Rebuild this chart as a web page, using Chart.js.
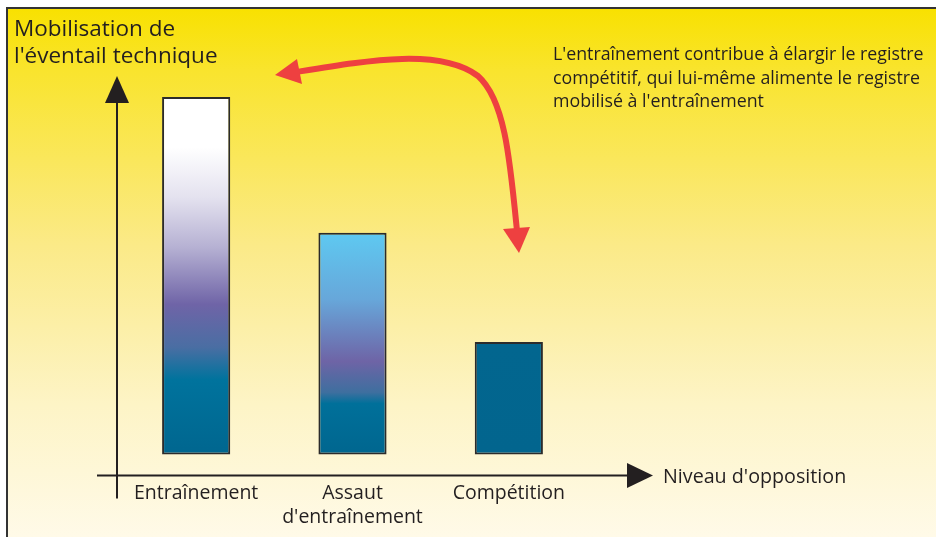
<!DOCTYPE html>
<html>
<head>
<meta charset="utf-8">
<script src="https://cdn.jsdelivr.net/npm/chart.js@4"></script>
<style>
  body { margin: 0; background: #fff; }
  canvas { display: block; }
</style>
</head>
<body>
<canvas id="mobilisationChart" width="936" height="537"></canvas>
<script>
const niveaux = ['Entraînement', ['Assaut', "d'entraînement"], 'Compétition'];
const mobilisation = [100, 62, 31.5];
const yMin = -6;
const yMax = 100;

const titreY = ['Mobilisation de', "l'éventail technique"];
const titreX = "Niveau d'opposition";
const commentaire = [
    "L'entraînement contribue à élargir le registre",
    'compétitif, qui lui-même alimente le registre',
    "mobilisé à l'entraînement"
];

const FONT = "'Open Sans', 'Noto Sans', sans-serif";
const INK = '#231f20';

// colour stops for each bar (offset from top of bar to bottom)
const barStops = [
    [[0, '#ffffff'], [0.14, '#ffffff'], [0.28, '#e4e2ef'], [0.42, '#b6b1d3'], [0.58, '#6f64a7'], [0.7, '#4a6ea3'], [0.79, '#00739d'], [1, '#00668f']],
    [[0, '#5ec9f1'], [0.3, '#67a7da'], [0.58, '#6e64a6'], [0.72, '#3e6f9f'], [0.77, '#00709a'], [1, '#00668f']],
    [[0, '#02668f'], [1, '#02658e']]
];

function barFill(context) {
    const chart = context.chart;
    if (!chart.chartArea) return '#00668f';
    const y = chart.scales.y;
    const top = y.getPixelForValue(mobilisation[context.dataIndex]);
    const bottom = y.getPixelForValue(0);
    const g = chart.ctx.createLinearGradient(0, top, 0, bottom);
    barStops[context.dataIndex].forEach(s => g.addColorStop(s[0], s[1]));
    return g;
}

const decor = {
    id: 'decor',
    beforeDraw(chart) {
        const ctx = chart.ctx;
        ctx.save();
        ctx.fillStyle = '#ffffff';
        ctx.fillRect(0, 0, chart.width, chart.height);
        const bg = ctx.createLinearGradient(0, 8, 0, chart.height);
        bg.addColorStop(0, '#f8e100');
        bg.addColorStop(0.12, '#f9e42e');
        bg.addColorStop(0.45, '#fbea88');
        bg.addColorStop(0.75, '#fdf4c6');
        bg.addColorStop(1, '#fffae8');
        ctx.fillStyle = bg;
        ctx.fillRect(7, 8, chart.width - 7, chart.height - 8);
        // frame
        ctx.strokeStyle = '#333333';
        ctx.lineWidth = 2;
        ctx.beginPath();
        ctx.moveTo(7, chart.height);
        ctx.lineTo(7, 8);
        ctx.lineTo(chart.width, 8);
        ctx.stroke();
        ctx.restore();
    },
    afterDraw(chart) {
        const ctx = chart.ctx;
        const area = chart.chartArea;
        const ax = area.left - 1;
        const ay = area.bottom - 0.5;
        ctx.save();
        ctx.strokeStyle = INK;
        ctx.fillStyle = INK;
        ctx.lineWidth = 2;
        // y axis
        ctx.beginPath();
        ctx.moveTo(ax, ay + 23);
        ctx.lineTo(ax, 100);
        ctx.stroke();
        ctx.beginPath();
        ctx.moveTo(ax, 76);
        ctx.lineTo(ax - 12, 103);
        ctx.lineTo(ax + 12, 103);
        ctx.closePath();
        ctx.fill();
        // x axis
        ctx.beginPath();
        ctx.moveTo(97, ay);
        ctx.lineTo(630, ay);
        ctx.stroke();
        ctx.beginPath();
        ctx.moveTo(653, ay);
        ctx.lineTo(627, ay - 12.5);
        ctx.lineTo(627, ay + 12.5);
        ctx.closePath();
        ctx.fill();

        // texts
        ctx.textBaseline = 'alphabetic';
        ctx.textAlign = 'left';
        ctx.font = '22.5px ' + FONT;
        ctx.fillText(titreY[0], 14, 36);
        ctx.fillText(titreY[1], 14, 63);
        ctx.font = '19.7px ' + FONT;
        ctx.fillText(titreX, 663, 483);
        ctx.font = '17.8px ' + FONT;
        commentaire.forEach((t, i) => ctx.fillText(t, 553, 60 + i * 23.5));

        // red double arrow
        ctx.strokeStyle = '#ee4040';
        ctx.fillStyle = '#ee4040';
        ctx.lineWidth = 6;
        ctx.beginPath();
        ctx.moveTo(296, 72);
        ctx.bezierCurveTo(370, 60, 440, 48, 478, 76);
        ctx.bezierCurveTo(505, 100, 510, 160, 517, 231);
        ctx.stroke();
        ctx.beginPath();
        ctx.moveTo(275, 75);
        ctx.lineTo(297, 59);
        ctx.lineTo(302, 84);
        ctx.closePath();
        ctx.fill();
        ctx.beginPath();
        ctx.moveTo(519, 253);
        ctx.lineTo(503, 229);
        ctx.lineTo(530, 227);
        ctx.closePath();
        ctx.fill();
        ctx.restore();
    }
};

new Chart(document.getElementById('mobilisationChart').getContext('2d'), {
    type: 'bar',
    data: {
        labels: niveaux,
        datasets: [{
            data: mobilisation,
            backgroundColor: barFill,
            borderColor: '#2b2b2b',
            borderWidth: 2,
            borderSkipped: false,
            barPercentage: 0.436,
            categoryPercentage: 1
        }]
    },
    options: {
        responsive: false,
        animation: false,
        layout: {
            padding: { left: 118, right: 349, top: 97, bottom: 0 }
        },
        plugins: {
            legend: { display: false },
            tooltip: { enabled: false },
            title: { display: false }
        },
        scales: {
            y: {
                display: false,
                min: yMin,
                max: yMax
            },
            x: {
                grid: { display: false, drawTicks: false },
                border: { display: false },
                ticks: {
                    color: INK,
                    padding: 5,
                    font: { family: FONT, size: 19.5, lineHeight: 1.23 }
                },
                afterFit(scale) { scale.height = 61; }
            }
        }
    },
    plugins: [decor]
});
</script>
</body>
</html>
